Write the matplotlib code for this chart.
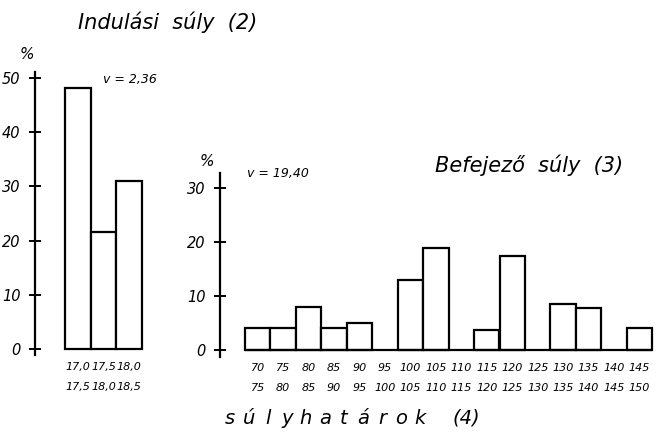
import matplotlib
matplotlib.use("Agg")
import matplotlib.pyplot as plt

# --- data ---
start_lo = ["17,0", "17,5", "18,0"]
start_hi = ["17,5", "18,0", "18,5"]
start_pct = [48.2, 21.6, 31.0]

end_lo = ["70", "75", "80", "85", "90", "95", "100", "105",
          "110", "115", "120", "125", "130", "135", "140", "145"]
end_hi = ["75", "80", "85", "90", "95", "100", "105", "110",
          "115", "120", "125", "130", "135", "140", "145", "150"]
end_pct = [4.1, 4.1, 8.0, 4.1, 5.0, 0.0, 13.0, 18.8,
           0.0, 3.7, 17.5, 0.0, 8.6, 7.8, 0.0, 4.0]

start_ticks = [0, 10, 20, 30, 40, 50]
end_ticks = [0, 10, 20, 30]

W, H = 661, 434
plt.rcParams['font.family'] = ['DejaVu Sans']
plt.rcParams['font.style'] = 'italic'

fig = plt.figure(figsize=(W / 100, H / 100), dpi=100)


def px_axes(x0, x1, ytop, ybot):
    return fig.add_axes([x0 / W, 1 - ybot / H, (x1 - x0) / W, (ybot - ytop) / H])


def histo(ax, lo, hi, vals, ticks, spine_x, spine_bounds, full_base):
    n = len(vals)
    for i, v in enumerate(vals):
        if v > 0:
            ax.bar(i, v, width=1.0, align='edge', facecolor='white',
                   edgecolor='black', linewidth=1.6, zorder=2)
    if full_base:
        ax.hlines(0, 0, n, color='black', linewidth=1.6, zorder=3)
    for s in ['top', 'right', 'bottom']:
        ax.spines[s].set_visible(False)
    ax.spines['left'].set_position(('data', spine_x))
    ax.spines['left'].set_bounds(*spine_bounds)
    ax.spines['left'].set_linewidth(1.6)
    ax.set_xticks([])
    ax.set_yticks(ticks)
    ax.set_yticklabels([str(t) for t in ticks], fontsize=10.5)
    ax.tick_params(axis='y', direction='inout', length=9, width=1.4, pad=6)
    for i in range(n):
        ax.text(i + 0.5, -3.3, lo[i], ha='center', va='center', fontsize=8)
        ax.text(i + 0.5, -7.0, hi[i], ha='center', va='center', fontsize=8)
    ax.patch.set_visible(False)


# left histogram: bars start at px 65, bin 25.7 px, 0 at px 349, 5.42 px per %
bw, y0, ppu = 25.7, 349, 5.42
x0, x1, yt, yb = 15, 160, 60, 395
axl = px_axes(x0, x1, yt, yb)
axl.set_xlim((x0 - 65) / bw, (x1 - 65) / bw)
axl.set_ylim((y0 - yb) / ppu, (y0 - yt) / ppu)
histo(axl, start_lo, start_hi, start_pct, start_ticks, (35 - 65) / bw,
      (-1.1, 51.1), False)
axl.text((27 - 65) / bw, (y0 - 55) / ppu, "%", ha='center', va='center',
         fontsize=11)
axl.text((103 - 65) / bw, (y0 - 80) / ppu, "v = 2,36", ha='left',
         va='center', fontsize=9)

# right histogram: bars start at px 245, bin 25.4 px, 0 at px 350, 5.4 px per %
bw, y0, ppu = 25.45, 350, 5.4
x0, x1, yt, yb = 185, 660, 150, 395
axr = px_axes(x0, x1, yt, yb)
axr.set_xlim((x0 - 245) / bw, (x1 - 245) / bw)
axr.set_ylim((y0 - yb) / ppu, (y0 - yt) / ppu)
histo(axr, end_lo, end_hi, end_pct, end_ticks, (220 - 245) / bw,
      (-1.3, 32.8), True)
axr.text((207 - 245) / bw, (y0 - 162) / ppu, "%", ha='center', va='center',
         fontsize=11)
axr.text((247 - 245) / bw, (y0 - 173) / ppu, "v = 19,40", ha='left',
         va='center', fontsize=9)

fig.text(78 / W, 1 - 22 / H, "Indulási  súly  (2)", ha='left', va='center',
         fontsize=15)
fig.text(435 / W, 1 - 165 / H, "Befejező  súly  (3)", ha='left', va='center',
         fontsize=15)

# spaced-out bottom caption
for k, ch in enumerate("súlyhatárok"):
    fig.text((230 + 19 * k) / W, 1 - 418 / H, ch, ha='center', va='center',
             fontsize=14)
fig.text(452 / W, 1 - 418 / H, "(4)", ha='left', va='center', fontsize=14)

fig.savefig("out.png", dpi=100, facecolor='white')
